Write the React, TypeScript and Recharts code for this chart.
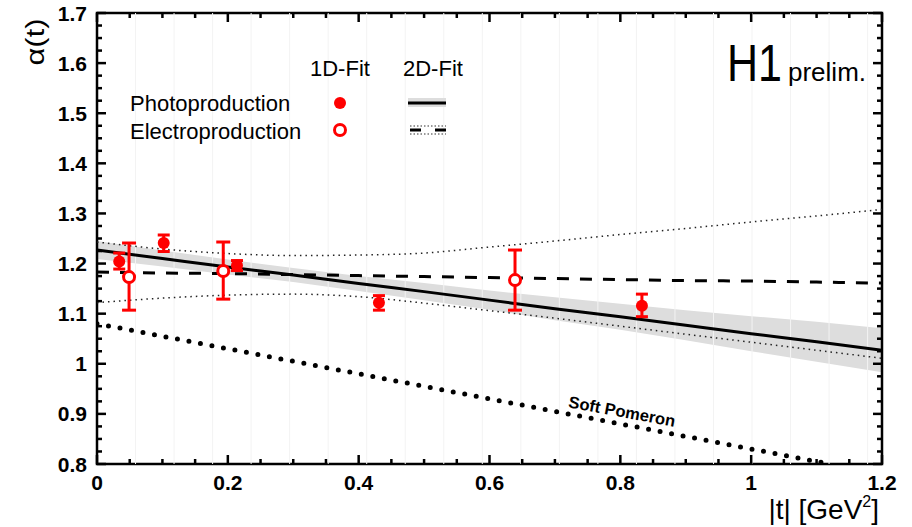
import React from "react";
import {
  ComposedChart,
  Area,
  Line,
  Scatter,
  ErrorBar,
  XAxis,
  YAxis,
  ReferenceArea,
  ReferenceLine,
} from "recharts";

const FONT = '"Liberation Sans", Arial, Helvetica, sans-serif';
const RED = "#ff0000";

// 2D-fit curves sampled along |t|
const fitT = [0, 0.1, 0.2, 0.3, 0.4, 0.5, 0.6, 0.7, 0.8, 0.9, 1.0, 1.1, 1.2];
const photoFit = [1.227, 1.21, 1.193, 1.177, 1.16, 1.144, 1.127, 1.11, 1.094, 1.077, 1.06, 1.044, 1.027];
const photoBandLow = [1.209, 1.194, 1.178, 1.163, 1.145, 1.127, 1.108, 1.087, 1.068, 1.047, 1.025, 1.004, 0.983];
const photoBandHigh = [1.245, 1.226, 1.208, 1.191, 1.175, 1.161, 1.146, 1.133, 1.12, 1.107, 1.095, 1.084, 1.071];
const electroFit = [1.183, 1.181, 1.18, 1.178, 1.176, 1.174, 1.172, 1.17, 1.168, 1.166, 1.165, 1.163, 1.161];
const electroUpper = [1.243, 1.229, 1.22, 1.216, 1.217, 1.221, 1.233, 1.245, 1.258, 1.27, 1.283, 1.295, 1.308];
const electroLower = [1.122, 1.131, 1.137, 1.139, 1.134, 1.121, 1.106, 1.091, 1.075, 1.059, 1.043, 1.027, 1.011];

// soft pomeron trajectory
const pomeronT = [0, 1.12];
const pomeronAlpha = [1.08, 0.8];

// 1D-fit points
const photoT = [0.034, 0.102, 0.214, 0.431, 0.833];
const photoAlpha = [1.204, 1.241, 1.196, 1.122, 1.116];
const photoErrDown = [0.015, 0.017, 0.01, 0.015, 0.022];
const photoErrUp = [0.017, 0.016, 0.01, 0.014, 0.023];

const electroT = [0.049, 0.193, 0.639];
const electroAlpha = [1.173, 1.185, 1.167];
const electroErrDown = [0.066, 0.056, 0.06];
const electroErrUp = [0.068, 0.058, 0.06];

const xTickLabels = ["0", "0.2", "0.4", "0.6", "0.8", "1", "1.2"];
const yTickLabels = ["0.8", "0.9", "1", "1.1", "1.2", "1.3", "1.4", "1.5", "1.6", "1.7"];

const fitRows = fitT.map((t, i) => ({
  t,
  photo: photoFit[i],
  band: [photoBandLow[i], photoBandHigh[i]],
  electro: electroFit[i],
  eUp: electroUpper[i],
  eLo: electroLower[i],
}));
const pomeronRows = pomeronT.map((t, i) => ({ t, pom: pomeronAlpha[i] }));
const photoRows = photoT.map((t, i) => ({ t, a: photoAlpha[i], err: [photoErrDown[i], photoErrUp[i]] }));
const electroRows = electroT.map((t, i) => ({ t, a: electroAlpha[i], err: [electroErrDown[i], electroErrUp[i]] }));

// frame geometry
const W = 912;
const H = 527;
const LEFT = 97;
const RIGHT = 882;
const TOP = 13;
const BOTTOM = 464;

const xTicks: number[] = [];
for (let k = 0; k <= 24; k++) xTicks.push(Math.round(k * 50) / 1000);
const yTicks: number[] = [];
for (let k = 0; k <= 36; k++) yTicks.push(Math.round(800 + k * 25) / 1000);

// seams of the band polygon
const seams: number[] = [];
for (let k = 1; k <= 20; k++) seams.push(k * 0.0589);

const labelFor = (v: number, labels: string[]) => labels.find((l) => Math.abs(parseFloat(l) - v) < 1e-6);

const XTick = (props: any) => {
  const { x, payload } = props;
  const label = labelFor(payload.value, xTickLabels);
  const len = label ? 9 : 5;
  return (
    <g>
      <line x1={x} x2={x} y1={BOTTOM} y2={BOTTOM - len} stroke="#000" strokeWidth={2.5} />
      <line x1={x} x2={x} y1={TOP} y2={TOP + len} stroke="#000" strokeWidth={2.5} />
      {label && (
        <text x={x} y={BOTTOM + 26} textAnchor="middle" fontFamily={FONT} fontWeight="bold" fontSize={21} fill="#000">
          {label}
        </text>
      )}
    </g>
  );
};

const YTick = (props: any) => {
  const { y, payload } = props;
  const label = labelFor(payload.value, yTickLabels);
  const len = label ? 9 : 5;
  return (
    <g>
      <line x1={LEFT} x2={LEFT + len} y1={y} y2={y} stroke="#000" strokeWidth={2.5} />
      <line x1={RIGHT} x2={RIGHT - len} y1={y} y2={y} stroke="#000" strokeWidth={2.5} />
      {label && (
        <text x={LEFT - 10} y={y + 7.5} textAnchor="end" fontFamily={FONT} fontWeight="bold" fontSize={21} fill="#000">
          {label}
        </text>
      )}
    </g>
  );
};

const FilledDot = (props: any) => <circle cx={props.cx} cy={props.cy} r={6} fill={RED} />;
const OpenDot = (props: any) => (
  <circle cx={props.cx} cy={props.cy} r={5.5} fill="#fff" stroke={RED} strokeWidth={3} />
);

function Overlay() {
  const txt = { fontFamily: FONT, fill: "#000" };
  return (
    <svg width={W} height={H} style={{ position: "absolute", left: 0, top: 0, pointerEvents: "none" }}>
      {/* legend */}
      <text x={310} y={76} fontSize={22} {...txt}>1D-Fit</text>
      <text x={403} y={76} fontSize={22} {...txt}>2D-Fit</text>
      <text x={130} y={111} fontSize={22} {...txt}>Photoproduction</text>
      <text x={130} y={139} fontSize={22} {...txt}>Electroproduction</text>
      <circle cx={340} cy={103} r={6} fill={RED} />
      <circle cx={340} cy={130} r={5.5} fill="#fff" stroke={RED} strokeWidth={3} />
      <rect x={408} y={98} width={38} height={9} fill="#dddddd" />
      <line x1={408} x2={446} y1={103} y2={103} stroke="#000" strokeWidth={3} />
      <line x1={410} x2={446} y1={126} y2={126} stroke="#333" strokeWidth={1.2} strokeDasharray="1.5 2" />
      <line x1={410} x2={446} y1={134} y2={134} stroke="#333" strokeWidth={1.2} strokeDasharray="1.5 2" />
      <line x1={410} x2={446} y1={130} y2={130} stroke="#000" strokeWidth={3} strokeDasharray="11 14" />

      {/* experiment tag */}
      <text x={727} y={81} fontSize={52} textLength={55} lengthAdjust="spacingAndGlyphs" {...txt}>H1</text>
      <text x={788} y={81} fontSize={26} {...txt}>prelim.</text>

      {/* axis titles */}
      <text
        x={0}
        y={0}
        fontSize={26}
        textAnchor="middle"
        textLength={47}
        lengthAdjust="spacingAndGlyphs"
        transform="translate(44,42) rotate(-90)"
        {...txt}
      >
        α(t)
      </text>
      <text x={879} y={519} fontSize={28} textAnchor="end" {...txt}>
        |t| [GeV<tspan fontSize={16} dy={-12}>2</tspan>
        <tspan dy={12}>]</tspan>
      </text>

      <text
        x={621}
        y={417}
        fontSize={16.5}
        fontWeight="bold"
        textAnchor="middle"
        transform="rotate(10.5 621 417)"
        {...txt}
      >
        Soft Pomeron
      </text>
    </svg>
  );
}

export default function App() {
  return (
    <div style={{ position: "absolute", left: 0, top: 0, width: W, height: H, background: "#fff" }}>
      <ComposedChart
        width={W}
        height={H}
        data={fitRows}
        margin={{ top: TOP, right: W - RIGHT, bottom: 0, left: 0 }}
      >
        <XAxis
          type="number"
          dataKey="t"
          domain={[0, 1.2]}
          allowDataOverflow
          ticks={xTicks}
          interval={0}
          height={H - BOTTOM}
          axisLine={false}
          tickLine={false}
          tickSize={0}
          tickMargin={0}
          tick={<XTick />}
        />
        <YAxis
          type="number"
          domain={[0.8, 1.7]}
          allowDataOverflow
          ticks={yTicks}
          interval={0}
          width={LEFT}
          axisLine={false}
          tickLine={false}
          tickSize={0}
          tickMargin={0}
          tick={<YTick />}
        />
        {seams.map((s) => (
          <ReferenceLine key={s} x={s} stroke="#f3f3f3" strokeWidth={1} />
        ))}
        <Area
          dataKey="band"
          type="linear"
          fill="#dddddd"
          fillOpacity={1}
          stroke="none"
          isAnimationActive={false}
        />
        <Line dataKey="eUp" type="monotone" stroke="#222" strokeWidth={1.5} strokeDasharray="1.5 4" dot={false} isAnimationActive={false} />
        <Line dataKey="eLo" type="monotone" stroke="#222" strokeWidth={1.5} strokeDasharray="1.5 4" dot={false} isAnimationActive={false} />
        <Line dataKey="electro" type="monotone" stroke="#000" strokeWidth={3} strokeDasharray="12 11" dot={false} isAnimationActive={false} />
        <Line dataKey="photo" type="monotone" stroke="#000" strokeWidth={3} dot={false} isAnimationActive={false} />
        <Line
          data={pomeronRows}
          dataKey="pom"
          type="linear"
          stroke="#000"
          strokeWidth={5}
          strokeLinecap="round"
          strokeDasharray="0 11.7"
          dot={false}
          isAnimationActive={false}
        />
        <Scatter data={photoRows} dataKey="a" shape={<FilledDot />} isAnimationActive={false}>
          <ErrorBar dataKey="err" direction="y" width={6} stroke={RED} strokeWidth={3} />
        </Scatter>
        <Scatter data={electroRows} dataKey="a" shape={<OpenDot />} isAnimationActive={false}>
          <ErrorBar dataKey="err" direction="y" width={7} stroke={RED} strokeWidth={3} />
        </Scatter>
        <ReferenceArea x1={0} x2={1.2} y1={0.8} y2={1.7} fill="none" fillOpacity={0} stroke="#000" strokeWidth={2.5} />
      </ComposedChart>
      <Overlay />
    </div>
  );
}
